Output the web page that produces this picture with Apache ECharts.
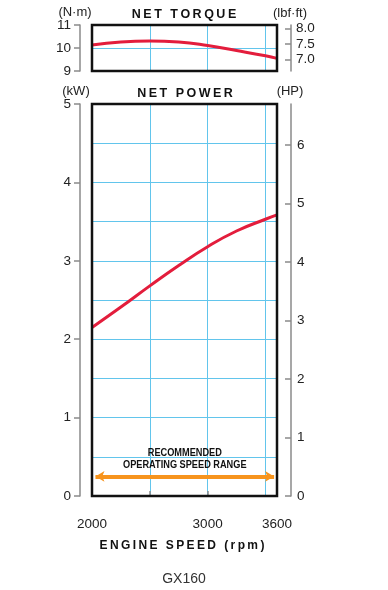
<!DOCTYPE html>
<html>
<head>
<meta charset="utf-8">
<script src="https://cdn.jsdelivr.net/npm/echarts@6/dist/echarts.min.js"></script>
<style>
html,body{margin:0;padding:0;background:#fff;}
#chart{width:388px;height:590px;}
</style>
</head>
<body>
<div id="chart"></div>
<script>
// ---- data ----
var rpm = [2000, 2250, 2500, 2750, 3000, 3250, 3500, 3600];
var torqueNm = [10.13, 10.26, 10.30, 10.26, 10.11, 9.89, 9.66, 9.55];
var powerKw = [2.15, 2.41, 2.68, 2.94, 3.18, 3.38, 3.53, 3.585];
var rangeRpm = [2030, 3575];
var rangeKw = 0.25;
var rangeText = ['RECOMMENDED', 'OPERATING SPEED RANGE'];
var xTickValues = [2000, 2500, 3000, 3600];
var xLabelValues = [2000, 3000, 3600];
var lbfTickValues = [7.0, 7.5, 8.0];
var NM_TO_LBFFT = 0.73756;
var KW_TO_HP = 1 / 0.7457;

var FONT = '"Liberation Sans", Arial, sans-serif';
var GRIDC = '#62c5ec';
var AXC = '#8a8a8a';
var TXT = '#222';

function sp(s){ return s.split('').join('\u2009'); }

var chart = echarts.init(document.getElementById('chart'), null, {renderer:'canvas'});

function gridX(gi){
  return {gridIndex:gi, type:'value', min:2000, max:3600, interval:500,
    axisLine:{show:false}, axisTick:{show:false}, axisLabel:{show:false},
    splitLine:{show:true, lineStyle:{color:GRIDC, width:1}}};
}

var texts = [
  {type:'text', id:'t1', x:184, y:8, style:{text:sp('NET TORQUE'), font:'bold 12.5px '+FONT, fill:'#111', textAlign:'center'}},
  {type:'text', id:'t2', x:75, y:6, style:{text:'(N·m)', font:'13px '+FONT, fill:TXT, textAlign:'center'}},
  {type:'text', id:'t3', x:290, y:7, style:{text:'(lbf·ft)', font:'13px '+FONT, fill:TXT, textAlign:'center'}},
  {type:'text', id:'t4', x:185, y:87, style:{text:sp('NET POWER'), font:'bold 12.5px '+FONT, fill:'#111', textAlign:'center'}},
  {type:'text', id:'t5', x:76, y:85, style:{text:'(kW)', font:'13px '+FONT, fill:TXT, textAlign:'center'}},
  {type:'text', id:'t6', x:290, y:85, style:{text:'(HP)', font:'13px '+FONT, fill:TXT, textAlign:'center'}},
  {type:'text', id:'t7', x:182, y:540, style:{text:sp('ENGINE SPEED (rpm)'), font:'bold 12px '+FONT, fill:'#111', textAlign:'center'}},
  {type:'text', id:'t8', x:184, y:572, style:{text:'GX160', font:'14px '+FONT, fill:'#333', textAlign:'center'}}
];

var option = {
  animation:false,
  backgroundColor:'#fff',
  grid:[
    {left:92, top:25, width:185, height:46, show:true, borderColor:'#111', borderWidth:2.5, backgroundColor:'transparent', z:5},
    {left:92, top:104, width:185, height:392, show:true, borderColor:'#111', borderWidth:2.5, backgroundColor:'transparent', z:5}
  ],
  xAxis:[
    gridX(0),
    gridX(1),
    {gridIndex:1, type:'value', min:2000, max:3600, position:'bottom', offset:14,
      axisLine:{show:true, lineStyle:{color:AXC, width:1.5}},
      axisTick:{show:true, inside:true, length:5, customValues:xTickValues, lineStyle:{color:AXC, width:1.5}},
      axisLabel:{show:true, customValues:xLabelValues, margin:7, color:TXT, fontSize:13.5, fontFamily:FONT,
        formatter:function(v){return String(v);}},
      splitLine:{show:false}}
  ],
  yAxis:[
    {gridIndex:0, type:'value', position:'left', offset:12, min:9, max:11, interval:1,
      axisLine:{show:true, lineStyle:{color:AXC, width:1.5}},
      axisTick:{show:true, inside:false, length:6, lineStyle:{color:AXC, width:1.5}},
      axisLabel:{margin:9, color:TXT, fontSize:13.5, fontFamily:FONT},
      splitLine:{show:true, lineStyle:{color:GRIDC, width:1}}},
    {gridIndex:0, type:'value', position:'right', offset:14, min:9*NM_TO_LBFFT, max:11*NM_TO_LBFFT,
      axisLine:{show:true, lineStyle:{color:AXC, width:1.5}},
      axisTick:{show:true, inside:true, length:6, customValues:lbfTickValues, lineStyle:{color:AXC, width:1.5}},
      axisLabel:{customValues:lbfTickValues, margin:5, color:TXT, fontSize:13.5, fontFamily:FONT,
        formatter:function(v){return v.toFixed(1);}},
      splitLine:{show:false}},
    {gridIndex:1, type:'value', position:'left', offset:12, min:0, max:5, interval:1,
      axisLine:{show:true, lineStyle:{color:AXC, width:1.5}},
      axisTick:{show:true, inside:false, length:6, lineStyle:{color:AXC, width:1.5}},
      axisLabel:{margin:9, color:TXT, fontSize:13.5, fontFamily:FONT},
      splitLine:{show:true, lineStyle:{color:GRIDC, width:1}},
      minorTick:{show:false, splitNumber:2},
      minorSplitLine:{show:true, lineStyle:{color:GRIDC, width:1}}},
    {gridIndex:1, type:'value', position:'right', offset:14, min:0, max:5*KW_TO_HP, interval:1,
      axisLine:{show:true, lineStyle:{color:AXC, width:1.5}},
      axisTick:{show:true, inside:true, length:6, lineStyle:{color:AXC, width:1.5}},
      axisLabel:{margin:6, color:TXT, fontSize:13.5, fontFamily:FONT, showMaxLabel:false},
      splitLine:{show:false}}
  ],
  series:[
    {type:'line', xAxisIndex:0, yAxisIndex:0, smooth:0.5, symbol:'none',
      lineStyle:{color:'#e31d3c', width:3}, z:4,
      data: rpm.map(function(r,i){return [r, torqueNm[i]];})},
    {type:'line', xAxisIndex:1, yAxisIndex:2, smooth:0.5, symbol:'none',
      lineStyle:{color:'#e31d3c', width:3}, z:4,
      data: rpm.map(function(r,i){return [r, powerKw[i]];}),
      markLine:{
        silent:true, symbol:['arrow','arrow'], symbolSize:[8,9],
        lineStyle:{color:'#f7941d', width:4, type:'solid'},
        label:{show:false},
        data:[[{coord:[rangeRpm[0], rangeKw]},{coord:[rangeRpm[1], rangeKw]}]]
      }}
  ]
};
chart.setOption(option);

// place the range caption relative to the arrow (via axis conversion)
var mid = chart.convertToPixel({xAxisIndex:1, yAxisIndex:2}, [(rangeRpm[0]+rangeRpm[1])/2, rangeKw]);
chart.setOption({graphic: texts.concat([
  {type:'group', id:'rangeCap', x:mid[0], y:mid[1]-6,
    children:[{type:'text', id:'rangeCapText', scaleX:0.8, style:{text:rangeText.join('\n'), font:'bold 11.5px '+FONT,
      fill:'#111', textAlign:'center', textVerticalAlign:'bottom', lineHeight:12}}]}
])});
</script>
</body>
</html>
